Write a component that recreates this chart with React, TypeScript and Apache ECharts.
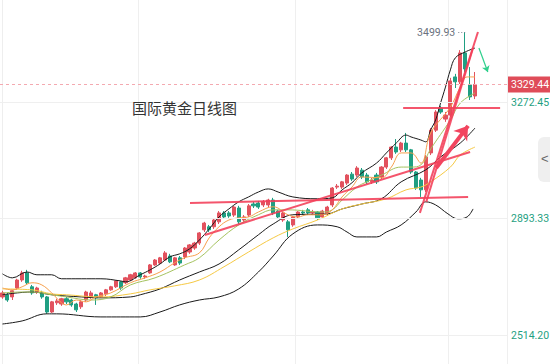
import React, { useEffect, useRef } from "react";
import * as echarts from "echarts";

const SLOTS = 103;
const categories: string[] = Array.from({ length: SLOTS }, (_, i) => `D${i + 1}`);

// [open, close, low, high]
const candles: number[][] = [
  [2639, 2652, 2633, 2659], [2646, 2629, 2623, 2652], [2639, 2659, 2629, 2662], [2668, 2694, 2662, 2698],
  [2694, 2717, 2688, 2724], [2717, 2685, 2678, 2727], [2672, 2652, 2646, 2678], [2655, 2668, 2649, 2672],
  [2652, 2639, 2633, 2659], [2639, 2590, 2584, 2642], [2590, 2623, 2587, 2626], [2620, 2626, 2613, 2633],
  [2616, 2633, 2610, 2636], [2633, 2623, 2616, 2639], [2629, 2613, 2607, 2633], [2616, 2597, 2590, 2620],
  [2607, 2623, 2600, 2629], [2629, 2655, 2623, 2659], [2639, 2652, 2633, 2659], [2646, 2636, 2613, 2649],
  [2639, 2652, 2636, 2655], [2649, 2662, 2642, 2665], [2662, 2672, 2659, 2675], [2672, 2691, 2668, 2694],
  [2688, 2668, 2662, 2691], [2685, 2701, 2681, 2704], [2694, 2711, 2691, 2714], [2701, 2717, 2698, 2720],
  [2717, 2704, 2698, 2720], [2704, 2707, 2698, 2711], [2717, 2743, 2714, 2746], [2743, 2759, 2740, 2762],
  [2749, 2766, 2746, 2769], [2759, 2782, 2756, 2788], [2772, 2753, 2749, 2779], [2743, 2766, 2740, 2769],
  [2766, 2749, 2743, 2772], [2769, 2798, 2762, 2801], [2785, 2808, 2779, 2811], [2798, 2814, 2792, 2818],
  [2814, 2847, 2808, 2850], [2857, 2879, 2850, 2883], [2867, 2857, 2850, 2873], [2867, 2889, 2860, 2893],
  [2883, 2912, 2876, 2918], [2912, 2899, 2893, 2918], [2912, 2902, 2896, 2918], [2905, 2931, 2899, 2935],
  [2928, 2883, 2876, 2935], [2889, 2899, 2883, 2905], [2905, 2935, 2899, 2941], [2941, 2935, 2928, 2948],
  [2944, 2931, 2925, 2951], [2938, 2948, 2931, 2954], [2938, 2954, 2931, 2958], [2954, 2912, 2905, 2961],
  [2918, 2899, 2893, 2922], [2889, 2912, 2883, 2915], [2883, 2857, 2834, 2889], [2873, 2899, 2867, 2902],
  [2899, 2915, 2893, 2918], [2915, 2912, 2905, 2922], [2922, 2912, 2905, 2928], [2912, 2915, 2905, 2922],
  [2915, 2896, 2889, 2918], [2899, 2918, 2893, 2922], [2912, 2931, 2905, 2935], [2938, 2993, 2931, 2996],
  [2996, 2999, 2990, 3006], [2996, 3013, 2990, 3016], [3009, 3035, 3003, 3038], [3038, 3022, 3016, 3045],
  [3035, 3058, 3029, 3064], [3051, 3029, 3022, 3058], [3035, 3013, 3006, 3042], [3013, 3019, 3006, 3026],
  [3035, 3013, 3006, 3042], [3029, 3061, 3022, 3064], [3061, 3091, 3055, 3094], [3091, 3126, 3084, 3129],
  [3126, 3110, 3104, 3152], [3117, 3139, 3110, 3143], [3139, 3117, 3110, 3172], [3117, 3045, 3039, 3120],
  [3045, 2993, 2987, 3048], [3019, 2987, 2964, 3026], [2987, 3094, 2980, 3100], [3107, 3181, 3100, 3188],
  [3181, 3240, 3175, 3246], [3253, 3240, 3234, 3260], [3217, 3230, 3208, 3240], [3230, 3341, 3224, 3351],
  [3354, 3338, 3318, 3364], [3338, 3432, 3331, 3441], [3432, 3380, 3370, 3499.93], [3328, 3289, 3279, 3386],
  [3292, 3329.44, 3282, 3370],
];

// overlay lines, [candle index, value]
const bollUpper: number[][] = [
  [0, 2714], [2, 2701], [5, 2720], [7, 2711], [10, 2711], [12, 2698], [16, 2698], [20, 2698], [24, 2691],
  [25, 2688], [28, 2711], [30, 2727], [32, 2746], [34, 2769], [36, 2779], [38, 2795], [40, 2824], [42, 2860],
  [44, 2899], [46, 2925], [48, 2948], [50, 2964], [52, 2980], [54, 2990], [56, 2980], [59, 2964], [64, 2958],
  [67, 2961], [69, 2987], [71, 3010], [73, 3042], [76, 3074], [78, 3107], [80, 3139], [82, 3165], [83, 3159],
  [85, 3149], [86, 3143], [87, 3182], [88, 3214], [89, 3269], [90, 3321], [91, 3377], [92, 3416], [94, 3435],
  [96, 3448],
];
const bollMid: number[][] = [
  [0, 2646], [6, 2655], [10, 2646], [16, 2639], [20, 2636], [26, 2639], [28, 2646], [32, 2665], [36, 2694],
  [40, 2720], [44, 2746], [48, 2792], [52, 2841], [55, 2876], [59, 2906], [66, 2909], [69, 2925], [73, 2941],
  [77, 2958], [81, 3013], [86, 3052], [89, 3094], [93, 3139], [96, 3188],
];
const bollLower: number[][] = [
  [0, 2551], [4, 2561], [9, 2584], [11, 2584], [20, 2574], [28, 2574], [32, 2590], [36, 2613], [40, 2629],
  [44, 2639], [48, 2665], [52, 2720], [55, 2772], [59, 2844], [64, 2873], [68, 2867], [70, 2850], [72, 2834],
  [76, 2834], [78, 2850], [81, 2873], [84, 2915], [86, 2948], [88, 2938], [90.5, 2909], [92.5, 2893],
  [94.4, 2899], [95.6, 2925],
];
const maOrange: number[][] = [
  [0, 2668], [2, 2662], [4, 2672], [6, 2685], [8, 2678], [10, 2652], [12, 2620], [13, 2613], [15, 2629],
  [17, 2623], [19, 2639], [22, 2652], [26, 2685], [29, 2701], [32, 2720], [35, 2750], [37, 2766], [40, 2782],
  [42, 2831], [44, 2867], [46, 2889], [48, 2896], [50, 2899], [52, 2915], [55, 2932], [58, 2906], [60, 2899],
  [62, 2906], [65, 2906], [67, 2922], [69, 2964], [71, 2996], [73, 3029], [77, 3026], [79, 3061], [81, 3107],
  [83, 3107], [85, 3074], [87, 3172], [91, 3256], [93, 3321], [94.4, 3354], [96, 3354],
];
const maGreen: number[][] = [
  [0, 2652], [4, 2655], [6, 2655], [10, 2646], [13, 2639], [18, 2629], [22, 2639], [26, 2678], [31, 2701],
  [37, 2743], [40, 2766], [44, 2824], [48, 2873], [52, 2906], [55, 2922], [58, 2922], [65, 2915], [67, 2922],
  [69, 2954], [72, 2996], [74, 3013], [77, 3035], [81, 3061], [83, 3061], [85, 3068], [87, 3120], [91, 3214],
  [93, 3269], [96, 3302],
];
const maYellow: number[][] = [
  [0, 2665], [6, 2662], [10, 2649], [13, 2646], [20, 2639], [26, 2649], [30, 2662], [35, 2675], [40, 2694],
  [45, 2737], [50, 2785], [55, 2831], [59, 2860], [64, 2889], [69, 2925], [73, 2941], [78, 2958], [82, 2987],
  [85, 2996], [87, 3013], [91, 3061], [93, 3100], [96, 3126],
];

// hand-drawn annotations, [candle index, value]
const trendLines: number[][][] = [
  [[38.1, 2944.5], [94.6, 2964]],
  [[81.4, 3253], [101.1, 3253]],
  [[41.1, 2840.5], [95, 3110]],
  [[84.8, 2912], [96.6, 3500]],
  [[86.1, 2948], [95.6, 3448]],
];
const redArrow: number[][] = [[88.1, 3058], [94.6, 3195]];
const greenArrow: number[][] = [[96.8, 3448], [98.6, 3370]];

const yTicks = [2514.2, 2893.33, 3272.45];
const lastPrice = 3329.44;
const highPrice = 3499.93;
const highMarkFrom = 92.6;
const highMarkTo = 94;
const monthBreaks = [28, 60, 91];
const title = "国际黄金日线图";

const RED = "#e2525e";
const TEAL = "#1f9f82";
const TREND = "rgba(242,62,88,0.88)";
const NUM_FONT = "Roboto, 'Noto Sans', sans-serif";

function lineSeries(data: number[][], color: string, width = 1) {
  return {
    type: "line",
    xAxisIndex: 1,
    data,
    smooth: 0.4,
    showSymbol: false,
    symbol: "none",
    silent: true,
    z: 3,
    lineStyle: { color, width },
  };
}

export default function App() {
  const ref = useRef<HTMLDivElement>(null);
  useEffect(() => {
    if (!ref.current) return;
    const chart = echarts.init(ref.current, null, { renderer: "svg" });
    const option: any = {
      animation: false,
      backgroundColor: "#ffffff",
      title: {
        text: title,
        left: 127,
        top: 95,
        textStyle: { fontSize: 15, fontWeight: "normal", color: "#333", fontFamily: "'Noto Sans CJK SC', sans-serif" },
      },
      grid: { left: 0, right: 43, top: 0, bottom: 0 },
      xAxis: [
        {
          type: "category",
          data: categories,
          boundaryGap: true,
          axisLine: { show: false },
          axisTick: { show: false },
          axisLabel: { show: false },
          splitLine: {
            show: true,
            interval: (idx: number) => monthBreaks.includes(idx),
            lineStyle: { color: "#efefef", width: 1 },
          },
        },
        { type: "value", min: -0.5, max: SLOTS - 0.5, show: false },
      ],
      yAxis: {
        type: "value",
        min: 2421,
        max: 3604,
        position: "right",
        axisLabel: { show: false },
        axisTick: { show: false },
        splitLine: { show: false },
        axisLine: { show: true, lineStyle: { color: "#eeeeee" } },
      },
      series: [
        {
          type: "line",
          xAxisIndex: 1,
          data: [],
          z: 1,
          silent: true,
          markLine: {
            silent: true,
            symbol: ["none", "none"],
            lineStyle: { color: "#efefef", type: "solid", width: 1 },
            label: {
              position: "end",
              distance: 4,
              color: TEAL,
              fontSize: 10.5,
              fontFamily: NUM_FONT,
              formatter: (p: any) => Number(p.value).toFixed(2),
            },
            data: [
              ...yTicks.map((v) => ({ yAxis: v })),
              {
                yAxis: lastPrice,
                lineStyle: { color: "#f4a9b0", type: [3, 3], width: 1 },
                label: {
                  position: "end",
                  distance: 1,
                  formatter: lastPrice.toFixed(2),
                  color: "#fff",
                  backgroundColor: "#df4c59",
                  padding: [3, 3, 2, 3],
                  fontSize: 10.5,
                  fontFamily: NUM_FONT,
                },
              },
              [
                {
                  coord: [highMarkFrom, highPrice],
                  lineStyle: { color: "#7d8594", type: [1, 2], width: 1 },
                  label: {
                    position: "start",
                    distance: 3,
                    formatter: highPrice.toFixed(2),
                    color: "#6b7280",
                    fontSize: 10.5,
                    fontFamily: NUM_FONT,
                  },
                },
                {
                  coord: [highMarkTo, highPrice],
                  lineStyle: { color: "#7d8594", type: [1, 2], width: 1 },
                },
              ],
            ],
          },
        },
        {
          type: "candlestick",
          xAxisIndex: 0,
          data: candles,
          barWidth: "74%",
          z: 2,
          silent: true,
          itemStyle: { color: RED, color0: TEAL, borderColor: RED, borderColor0: TEAL, borderWidth: 1 },
        },
        lineSeries(bollUpper, "#1a1a1a"),
        lineSeries(bollMid, "#1a1a1a"),
        lineSeries(bollLower, "#1a1a1a"),
        lineSeries(maYellow, "#f6c943"),
        lineSeries(maGreen, "#a5c35f"),
        lineSeries(maOrange, "#f7a04c"),
        {
          type: "lines",
          coordinateSystem: "cartesian2d",
          xAxisIndex: 1,
          yAxisIndex: 0,
          z: 6,
          silent: true,
          symbol: ["none", "none"],
          lineStyle: { color: TREND, width: 2, opacity: 1 },
          data: trendLines.map((c) => ({ coords: c })),
        },
        {
          type: "lines",
          coordinateSystem: "cartesian2d",
          xAxisIndex: 1,
          yAxisIndex: 0,
          z: 7,
          silent: true,
          symbol: ["none", "arrow"],
          symbolSize: 13,
          lineStyle: { color: "#f2455f", width: 4, opacity: 1 },
          data: [{ coords: redArrow }],
        },
        {
          type: "lines",
          coordinateSystem: "cartesian2d",
          xAxisIndex: 1,
          yAxisIndex: 0,
          z: 7,
          silent: true,
          symbol: ["none", "arrow"],
          symbolSize: 6,
          lineStyle: { color: "#2fd08c", width: 1.2, opacity: 1 },
          data: [{ coords: greenArrow }],
        },
      ],
      graphic: [
        { type: "rect", shape: { x: 538, y: 137, width: 20, height: 45, r: 6 }, style: { fill: "#efefef" } },
        { type: "text", x: 541, y: 152, style: { text: "<", fontSize: 13, fill: "#666", fontFamily: "sans-serif" } },
      ],
    };
    chart.setOption(option);
    return () => chart.dispose();
  }, []);
  return (
    <div
      ref={ref}
      style={{ position: "fixed", left: 0, top: 0, width: 550, height: 364, background: "#fff" }}
    />
  );
}
